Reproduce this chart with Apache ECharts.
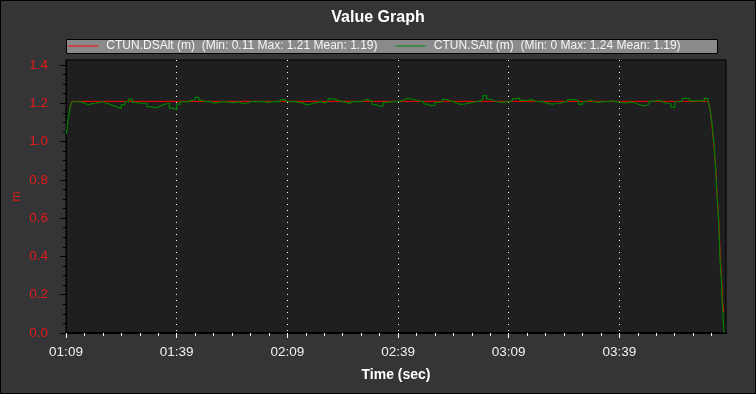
<!DOCTYPE html>
<html>
<head>
<meta charset="utf-8">
<script src="https://cdn.jsdelivr.net/npm/echarts@6/dist/echarts.min.js"></script>
<style>
html,body{margin:0;padding:0;background:#353537;}
#chart{width:756px;height:394px;}
</style>
</head>
<body>
<div id="chart"></div>
<script>
// ---- Data (x = seconds elapsed since 01:09) ----
const seriesNames = ['CTUN.DSAlt (m)', 'CTUN.SAlt (m)'];
const legendStats = ['(Min: 0.11 Max: 1.21 Mean: 1.19)', '(Min: 0 Max: 1.24 Mean: 1.19)'];
const xTickValues = [0, 30, 60, 90, 120, 150];
const xTickLabels = ['01:09', '01:39', '02:09', '02:39', '03:09', '03:39'];
const yTickValues = [0, 0.2, 0.4, 0.6, 0.8, 1.0, 1.2, 1.4];

const dsaltTime = [1.0, 1.3, 1.6, 174.1, 174.4, 174.7, 175.0, 175.3, 175.6, 175.9, 176.2, 176.5, 176.8, 177.1, 177.4, 177.7, 178.0, 178.3];
const dsaltValue = [1.17, 1.19, 1.21, 1.21, 1.19, 1.15, 1.10, 1.04, 0.99, 0.92, 0.83, 0.72, 0.64, 0.52, 0.38, 0.29, 0.16, 0.11];

const saltTime = [
  0.08, 0.27, 0.54, 0.81, 1.08, 1.36, 1.7,
  2, 3, 4, 5, 6, 7, 8, 9,
  10, 11, 12, 13, 14, 15, 16, 17, 18, 19,
  20, 21, 22, 23, 24, 25, 26, 27, 28, 29,
  30, 31, 32, 33, 34, 35, 36, 37, 38, 39,
  40, 41, 42, 43, 44, 45, 46, 47, 48, 49,
  50, 51, 52, 53, 54, 55, 56, 57, 58, 59,
  60, 61, 62, 63, 64, 65, 66, 67, 68, 69,
  70, 71, 72, 73, 74, 75, 76, 77, 78, 79,
  80, 81, 82, 83, 84, 85, 86, 87, 88, 89,
  90, 91, 92, 93, 94, 95, 96, 97, 98, 99,
  100, 101, 102, 103, 104, 105, 106, 107, 108, 109,
  110, 111, 112, 113, 114, 115, 116, 117, 118, 119,
  120, 121, 122, 123, 124, 125, 126, 127, 128, 129,
  130, 131, 132, 133, 134, 135, 136, 137, 138, 139,
  140, 141, 142, 143, 144, 145, 146, 147, 148, 149,
  150, 151, 152, 153, 154, 155, 156, 157, 158, 159,
  160, 161, 162, 163, 164, 165, 166, 167, 168, 169,
  170, 171, 172, 173, 174,
  174.25, 174.53, 174.8, 175.15, 175.42, 175.69, 175.96, 176.23, 176.5, 176.78, 177.05, 177.32, 177.59, 177.86, 178.13, 178.4
];
const saltValue = [
  1.04, 1.066, 1.113, 1.139, 1.174, 1.195, 1.208,
  1.208, 1.207, 1.201, 1.191, 1.198, 1.200, 1.205, 1.208,
  1.200, 1.194, 1.186, 1.180, 1.173, 1.193, 1.208, 1.222, 1.205, 1.200,
  1.201, 1.200, 1.182, 1.177, 1.180, 1.190, 1.196, 1.200, 1.175, 1.165,
  1.196, 1.208, 1.207, 1.215, 1.217, 1.231, 1.215, 1.208, 1.210, 1.200,
  1.203, 1.207, 1.208, 1.207, 1.203, 1.205, 1.207, 1.198, 1.200, 1.208,
  1.210, 1.208, 1.210, 1.207, 1.205, 1.208, 1.210, 1.208, 1.219, 1.210,
  1.208, 1.210, 1.205, 1.203, 1.193, 1.194, 1.200, 1.203, 1.210, 1.201,
  1.208, 1.224, 1.220, 1.215, 1.207, 1.205, 1.196, 1.207, 1.210, 1.208,
  1.217, 1.220, 1.210, 1.193, 1.184, 1.186, 1.205, 1.207, 1.208, 1.210,
  1.212, 1.222, 1.226, 1.219, 1.217, 1.212, 1.207, 1.196, 1.186, 1.191,
  1.205, 1.207, 1.220, 1.213, 1.210, 1.200, 1.194, 1.196, 1.201, 1.203,
  1.208, 1.210, 1.220, 1.240, 1.222, 1.212, 1.208, 1.205, 1.207, 1.207,
  1.213, 1.224, 1.227, 1.215, 1.213, 1.220, 1.213, 1.208, 1.210, 1.203,
  1.198, 1.196, 1.200, 1.201, 1.207, 1.208, 1.219, 1.220, 1.210, 1.194,
  1.208, 1.217, 1.208, 1.205, 1.207, 1.208, 1.210, 1.213, 1.207, 1.208,
  1.203, 1.200, 1.207, 1.203, 1.196, 1.189, 1.186, 1.196, 1.210, 1.213,
  1.215, 1.205, 1.200, 1.196, 1.179, 1.208, 1.210, 1.226, 1.224, 1.213,
  1.212, 1.213, 1.212, 1.226, 1.210,
  1.21, 1.174, 1.14, 1.09, 1.03, 0.98, 0.895, 0.81, 0.71, 0.634, 0.504, 0.37, 0.30, 0.17, 0.07, 0.0
];

// ---- Chart ----
const FONT = '"Liberation Sans", Arial, sans-serif';
const zip = (a, b) => a.map((v, i) => [v, b[i]]);
const chart = echarts.init(document.getElementById('chart'), null, {renderer: 'canvas'});

const option = {
  animation: false,
  backgroundColor: '#353537',
  textStyle: {fontFamily: FONT},
  title: {
    text: 'Value Graph',
    left: 'center',
    top: 10,
    padding: 0,
    textStyle: {color: '#ffffff', fontSize: 16, fontWeight: 'bold', fontFamily: FONT}
  },
  graphic: [
    {type: 'rect', z: -10, silent: true, shape: {x: 0.5, y: 0.5, width: 755, height: 393}, style: {fill: 'none', stroke: '#000', lineWidth: 1}},
    {type: 'rect', z: 1, silent: true, shape: {x: 66.5, y: 39.5, width: 651, height: 14}, style: {fill: '#8a8a8a', stroke: '#000', lineWidth: 1}}
  ],
  legend: {
    z: 10,
    left: 68,
    top: 39,
    padding: 0,
    icon: 'rect',
    itemWidth: 30,
    itemHeight: 1,
    itemGap: 18,
    data: seriesNames,
    formatter: name => ' ' + name + '  ' + legendStats[seriesNames.indexOf(name)],
    textStyle: {color: '#f5f5f5', fontSize: 12, fontFamily: FONT, lineHeight: 14}
  },
  grid: {
    left: 66, right: 30, top: 60, bottom: 61,
    show: true, backgroundColor: '#1f1f21', borderColor: '#000', borderWidth: 1
  },
  xAxis: {
    type: 'value',
    min: 0,
    max: 178.9,
    interval: 30,
    name: 'Time (sec)',
    nameLocation: 'middle',
    nameGap: 35,
    nameMoveOverlap: false,
    nameTextStyle: {color: '#ffffff', fontSize: 14, fontWeight: 'bold', fontFamily: FONT},
    axisLine: {show: true, onZero: false, lineStyle: {color: '#000', width: 2}},
    axisTick: {show: true, length: 5, customValues: xTickValues, lineStyle: {color: '#ffffff'}},
    minorTick: {show: true, splitNumber: 6, length: 3, lineStyle: {color: '#ffffff'}},
    axisLabel: {
      color: '#f0f0f0', fontSize: 13.5, margin: 12, fontFamily: FONT,
      showMaxLabel: false,
      formatter: v => { const i = xTickValues.indexOf(Math.round(v)); return i >= 0 ? xTickLabels[i] : ''; }
    },
    splitLine: {show: true, lineStyle: {color: '#ffffff', width: 1, type: [1, 5]}}
  },
  yAxis: {
    type: 'value',
    min: 0,
    max: 1.426,
    interval: 0.2,
    offset: 5,
    name: 'm',
    nameLocation: 'middle',
    nameRotate: 90,
    nameGap: 38,
    nameMoveOverlap: false,
    nameTextStyle: {color: '#e31a1a', fontSize: 12, fontFamily: FONT},
    axisLine: {show: true, lineStyle: {color: '#000', width: 1}},
    axisTick: {show: true, length: 6, customValues: yTickValues, lineStyle: {color: '#000'}},
    minorTick: {show: true, splitNumber: 4, length: 3, lineStyle: {color: '#000'}},
    axisLabel: {
      color: '#e31a1a', fontSize: 13.5, margin: 13, fontFamily: FONT,
      showMaxLabel: false,
      formatter: v => v.toFixed(1)
    },
    splitLine: {show: false}
  },
  series: [
    {
      name: seriesNames[0], type: 'line', step: 'end', symbol: 'none', showSymbol: false,
      color: '#ff0000', lineStyle: {color: '#ff0000', width: 1},
      data: zip(dsaltTime, dsaltValue), z: 2
    },
    {
      name: seriesNames[1], type: 'line', step: 'end', symbol: 'none', showSymbol: false,
      color: '#008000', lineStyle: {color: '#008000', width: 1.2},
      data: zip(saltTime, saltValue), z: 3
    }
  ]
};
chart.setOption(option);
</script>
</body>
</html>
